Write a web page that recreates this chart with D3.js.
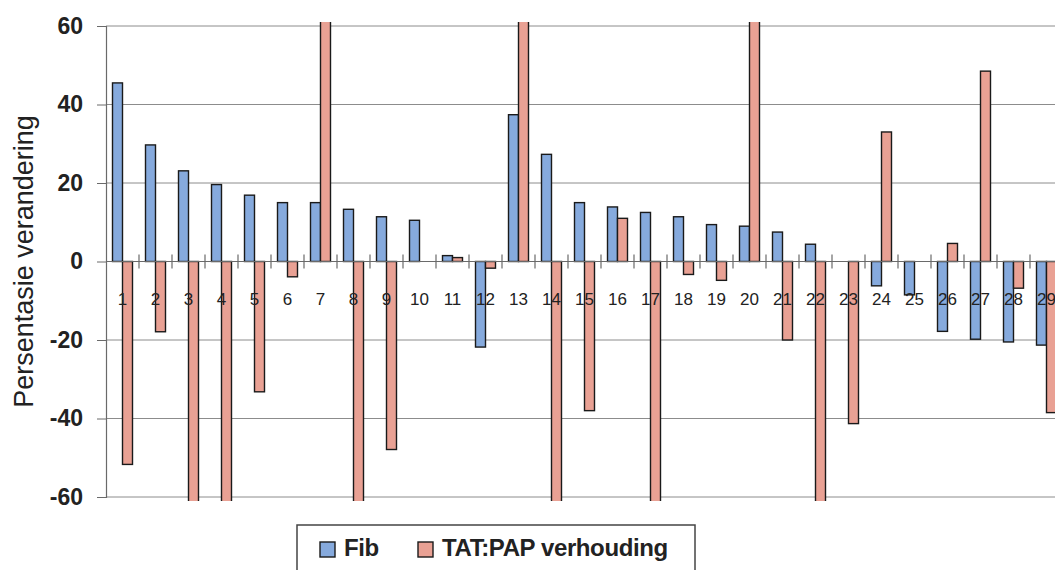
<!DOCTYPE html>
<html>
<head>
<meta charset="utf-8">
<script src="https://cdn.jsdelivr.net/npm/d3@7/dist/d3.min.js"></script>
<style>
  html, body { margin: 0; padding: 0; background: #fff; }
  svg { display: block; font-family: "Liberation Sans", Arial, sans-serif; }
</style>
</head>
<body>
<svg id="chart" width="1055" height="570"></svg>
<script>
// Subjects 1..29
const categories = d3.range(1, 30).map(String);
// Percentage change in Fib per subject
const fibValues = [45.5, 29.7, 23.1, 19.6, 16.9, 15.0, 15.0, 13.3, 11.4, 10.5,
                   1.5, -21.8, 37.4, 27.3, 15.0, 13.9, 12.5, 11.4, 9.4, 9.0,
                   7.5, 4.4, 0, -6.2, -8.5, -17.8, -19.8, -20.5, -21.3];
// Percentage change in TAT:PAP ratio per subject (some run off the ±60 scale)
const ratioValues = [-51.7, -17.9, -80, -80, -33.2, -3.9, 80, -80, -47.9, 0,
                     1.0, -1.7, 80, -80, -38.0, 11.0, -80, -3.3, -4.8, 80,
                     -20.0, -80, -41.3, 33.0, 0, 4.6, 48.5, -6.8, -38.5];
const seriesNames = ["Fib", "TAT:PAP verhouding"];
const seriesColors = ["#86aadd", "#e9a194"];
const yTicks = [-60, -40, -20, 0, 20, 40, 60];
const yTitle = "Persentasie verandering";

const svg = d3.select("#chart");

const plotLeft = 106, plotTop = 26, plotBottom = 497, step = 33;
const x = d3.scaleBand()
  .domain(categories)
  .range([plotLeft, plotLeft + step * categories.length])
  .paddingInner(13 / 33)
  .paddingOuter(6.5 / 33);
const xs = d3.scaleBand().domain(seriesNames).range([0, x.bandwidth()]);
const y = d3.scaleLinear().domain([-60, 60]).range([plotBottom, plotTop]);

// gridlines
svg.append("g")
  .selectAll("line")
  .data(yTicks.filter(d => d !== 0))
  .join("line")
  .attr("x1", plotLeft).attr("x2", 1055)
  .attr("y1", d => y(d)).attr("y2", d => y(d))
  .attr("stroke", "#8c8c8c").attr("stroke-width", 1);

// y axis (plain hyphen for negative labels)
const yAxis = d3.axisLeft(y).tickValues(yTicks).tickSize(9).tickPadding(14).tickFormat(d => String(d));
const gy = svg.append("g").attr("transform", `translate(${plotLeft},0)`).call(yAxis);
gy.select(".domain").attr("stroke", "#6a6a6a").attr("stroke-width", 1.2);
gy.selectAll(".tick line").attr("stroke", "#6a6a6a");
gy.selectAll(".tick text")
  .attr("font-size", 23).attr("font-weight", "bold").attr("fill", "#222")
  .attr("font-family", "'Liberation Sans', Arial, sans-serif");

// y axis title
svg.append("text")
  .attr("transform", `translate(33,${(plotTop + plotBottom) / 2}) rotate(-90)`)
  .attr("text-anchor", "middle")
  .attr("font-size", 27).attr("fill", "#222")
  .text(yTitle);

// bars, clipped slightly beyond the ±60 range
svg.append("clipPath").attr("id", "plotclip")
  .append("rect").attr("x", plotLeft).attr("y", y(61)).attr("width", 1055 - plotLeft).attr("height", y(-61) - y(61));

const rows = categories.map((c, i) => ({ c, vals: [fibValues[i], ratioValues[i]] }));
const gBars = svg.append("g").attr("clip-path", "url(#plotclip)");
gBars.selectAll("g")
  .data(rows)
  .join("g")
  .attr("transform", d => `translate(${x(d.c)},0)`)
  .selectAll("rect")
  .data(d => d.vals.map((v, k) => ({ v, k })).filter(e => e.v !== 0))
  .join("rect")
  .attr("x", e => xs(seriesNames[e.k]))
  .attr("width", xs.bandwidth())
  .attr("y", e => y(Math.max(0, e.v)))
  .attr("height", e => Math.abs(y(e.v) - y(0)))
  .attr("fill", e => seriesColors[e.k])
  .attr("stroke", "#1a1a1a").attr("stroke-width", 1.4);

// zero line with category ticks
svg.append("line")
  .attr("x1", plotLeft).attr("x2", 1055)
  .attr("y1", y(0)).attr("y2", y(0))
  .attr("stroke", "#6a6a6a").attr("stroke-width", 1.2);
svg.append("g")
  .selectAll("line")
  .data(categories.slice(1))
  .join("line")
  .attr("x1", d => x(d) - x.step() * x.paddingInner() / 2)
  .attr("x2", d => x(d) - x.step() * x.paddingInner() / 2)
  .attr("y1", y(0) - 7).attr("y2", y(0) + 7)
  .attr("stroke", "#6a6a6a").attr("stroke-width", 1.2);

// category labels
svg.append("g")
  .selectAll("text")
  .data(categories)
  .join("text")
  .attr("x", d => x(d) + x.bandwidth() / 2)
  .attr("y", 305)
  .attr("text-anchor", "middle")
  .attr("font-size", 17).attr("fill", "#222")
  .text(d => d);

// legend
const lg = svg.append("g");
lg.append("rect").attr("x", 297).attr("y", 525).attr("width", 398).attr("height", 60)
  .attr("fill", "#fff").attr("stroke", "#444").attr("stroke-width", 1.5);
const legendX = [320, 418];
seriesNames.forEach((name, k) => {
  lg.append("rect").attr("x", legendX[k]).attr("y", 542).attr("width", 15).attr("height", 15)
    .attr("fill", seriesColors[k]).attr("stroke", "#1a1a1a").attr("stroke-width", 1.4);
  lg.append("text").attr("x", legendX[k] + 24).attr("y", 556)
    .attr("font-size", 24).attr("font-weight", "bold").attr("fill", "#222")
    .attr("letter-spacing", -0.4)
    .text(name);
});
</script>
</body>
</html>
